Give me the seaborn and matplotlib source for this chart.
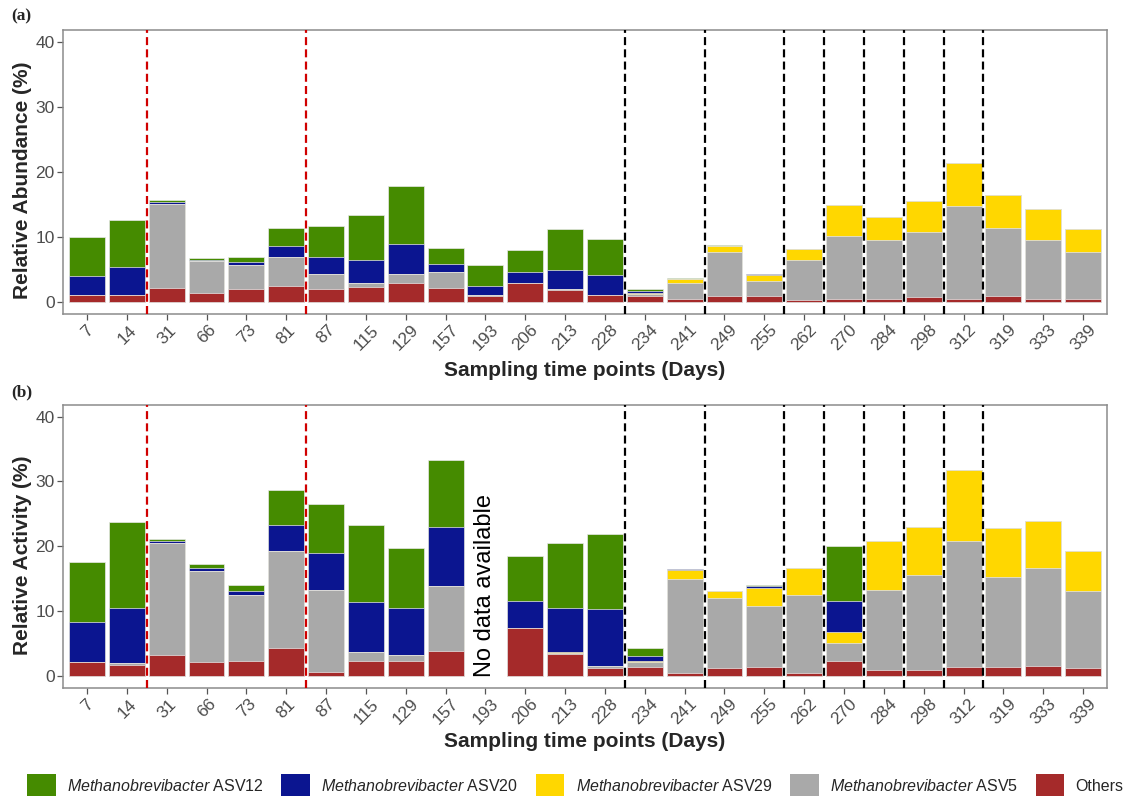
import numpy as np
import pandas as pd
import matplotlib
matplotlib.use("Agg")
import matplotlib.pyplot as plt
import seaborn as sns
from matplotlib.patches import Patch

# Sampling days (x categories)
days = [7, 14, 31, 66, 73, 81, 87, 115, 129, 157, 193, 206, 213, 228,
        234, 241, 249, 255, 262, 270, 284, 298, 312, 319, 333, 339]

# (a) Relative abundance (%) per taxon, segment heights
abund_others = [1.1, 1.1, 2.1, 1.4, 1.9, 2.4, 1.9, 2.25, 2.8, 2.15, 0.9, 2.8, 1.8, 0.95,
                0.9, 0.45, 0.85, 0.85, 0.25, 0.45, 0.45, 0.65, 0.45, 0.85, 0.45, 0.45]
abund_asv5 = [0.0, 0.0, 13.0, 4.8, 3.7, 4.5, 2.3, 0.65, 1.4, 2.4, 0.1, 0.0, 0.1, 0.1,
              0.3, 2.5, 6.8, 2.3, 6.15, 9.65, 9.0, 10.0, 14.3, 10.5, 9.0, 7.2]
abund_asv29 = [0.0, 0.0, 0.0, 0.0, 0.0, 0.0, 0.0, 0.0, 0.0, 0.0, 0.0, 0.0, 0.0, 0.0,
               0.2, 0.55, 0.9, 0.9, 1.75, 4.7, 3.65, 4.85, 6.55, 5.05, 4.85, 3.55]
abund_asv20 = [2.9, 4.2, 0.2, 0.2, 0.5, 1.6, 2.7, 3.45, 4.6, 1.3, 1.4, 1.75, 3.05, 3.1,
               0.3, 0.05, 0.0, 0.15, 0.0, 0.0, 0.0, 0.0, 0.0, 0.0, 0.0, 0.0]
abund_asv12 = [6.0, 7.3, 0.3, 0.3, 0.7, 2.8, 4.8, 7.0, 9.0, 2.45, 3.25, 3.45, 6.2, 5.5,
               0.2, 0.05, 0.1, 0.1, 0.0, 0.0, 0.0, 0.0, 0.0, 0.0, 0.0, 0.0]

# (b) Relative activity (%) per taxon, segment heights (day 193 missing)
nan = np.nan
act_others = [2.05, 1.7, 3.15, 2.05, 2.2, 4.35, 0.6, 2.2, 2.2, 3.85, nan, 7.35, 3.35, 1.2,
              1.4, 0.45, 1.2, 1.4, 0.45, 2.25, 0.8, 0.95, 1.4, 1.4, 1.55, 1.2]
act_asv5 = [0.0, 0.3, 17.3, 14.15, 10.2, 14.85, 12.7, 1.45, 0.95, 10.0, nan, 0.0, 0.1, 0.35,
            0.65, 14.55, 10.75, 9.4, 12.0, 2.85, 12.5, 14.55, 19.4, 13.9, 15.15, 11.9]
act_asv29 = [0.0, 0.0, 0.0, 0.0, 0.0, 0.0, 0.0, 0.0, 0.0, 0.0, nan, 0.0, 0.2, 0.0,
             0.25, 1.35, 1.05, 2.75, 4.15, 1.6, 7.55, 7.5, 10.9, 7.5, 7.2, 6.1]
act_asv20 = [6.2, 8.45, 0.3, 0.4, 0.7, 4.1, 5.7, 7.7, 7.3, 9.1, nan, 4.2, 6.8, 8.75,
             0.8, 0.1, 0.05, 0.3, 0.0, 4.85, 0.0, 0.0, 0.0, 0.0, 0.0, 0.0]
act_asv12 = [9.3, 13.25, 0.4, 0.6, 0.9, 5.4, 7.5, 11.85, 9.3, 10.4, nan, 6.95, 10.0, 11.65,
             1.1, 0.1, 0.1, 0.15, 0.0, 8.4, 0.0, 0.0, 0.0, 0.0, 0.0, 0.0]

# Taxa, bottom-to-top stacking order, with fill colours
taxa = ["Others", "ASV5", "ASV29", "ASV20", "ASV12"]
colors = {"ASV12": "#458B00", "ASV20": "#0B1590", "ASV29": "#FFD700",
          "ASV5": "#A9A9A9", "Others": "#A52A2A"}
legend_order = ["ASV12", "ASV20", "ASV29", "ASV5", "Others"]
legend_labels = {"ASV12": r"$\mathit{Methanobrevibacter}$ ASV12",
                 "ASV20": r"$\mathit{Methanobrevibacter}$ ASV20",
                 "ASV29": r"$\mathit{Methanobrevibacter}$ ASV29",
                 "ASV5": r"$\mathit{Methanobrevibacter}$ ASV5",
                 "Others": "Others"}

# Phase boundaries (between category positions)
red_breaks = [1.5, 5.5]
black_breaks = [13.5, 15.5, 17.5, 18.5, 19.5, 20.5, 21.5, 22.5]

sns.set_theme(style="white")
plt.rcParams["font.family"] = ["Liberation Sans", "DejaVu Sans"]
plt.rcParams["mathtext.fontset"] = "custom"
plt.rcParams["mathtext.it"] = "Liberation Sans:italic"
plt.rcParams["mathtext.rm"] = "Liberation Sans"

labels = [str(d) for d in days]


def stacked_frame(series):
    df = pd.DataFrame({"day": labels})
    for name, vals in zip(taxa, series):
        df[name] = vals
    cum = df[taxa].cumsum(axis=1)
    for name in taxa:
        df[name + "_top"] = cum[name]
    return df


def draw_panel(ax, series, ylabel, xlab_y):
    df = stacked_frame(series)
    # draw cumulative tops from the highest layer down so lower layers overlay
    for name in reversed(taxa):
        sns.barplot(data=df, x="day", y=name + "_top", order=labels, color=colors[name],
                    saturation=1, width=0.9, errorbar=None, edgecolor="#E8E8E8",
                    linewidth=0.5, ax=ax)
    for x in red_breaks:
        ax.axvline(x, color="#D00000", lw=1.6, ls=(0, (3.6, 1.9)), zorder=5)
    for x in black_breaks:
        ax.axvline(x, color="black", lw=1.6, ls=(0, (3.6, 1.9)), zorder=5)
    ax.set_xlim(-0.6, len(days) - 0.4)
    ax.set_ylim(-1.9, 41.8)
    ax.set_yticks([0, 10, 20, 30, 40])
    ax.tick_params(axis="both", which="major", length=4, width=0.9, color="#555555",
                   labelcolor="#4D4D4D", labelsize=12.5, pad=2, bottom=True, left=True)
    for lab in ax.get_xticklabels():
        lab.set_rotation(45)
        lab.set_ha("center")
        lab.set_va("top")
    for sp in ax.spines.values():
        sp.set_color("#8C8C8C")
        sp.set_linewidth(1.1)
    ax.set_xlabel("Sampling time points (Days)", fontsize=15, fontweight="bold", va="center")
    ax.set_ylabel(ylabel, fontsize=15, fontweight="bold", va="center")
    ax.xaxis.set_label_coords(0.5, xlab_y)
    ax.yaxis.set_label_coords(-0.039, 0.47)
    ax.grid(False)


fig = plt.figure(figsize=(11.28, 7.96), dpi=100)
ax_a = fig.add_axes([0.0559, 0.6055, 0.9255, 0.3568])
ax_b = fig.add_axes([0.0559, 0.1357, 0.9255, 0.3555])

draw_panel(ax_a, [abund_others, abund_asv5, abund_asv29, abund_asv20, abund_asv12],
           "Relative Abundance (%)", -0.2)
draw_panel(ax_b, [act_others, act_asv5, act_asv29, act_asv20, act_asv12],
           "Relative Activity (%)", -0.19)

ax_b.text(labels.index("193"), 14.0, "No data available", rotation=90,
          ha="center", va="center", fontsize=17, color="black")

fig.text(0.010, 0.979, "(a)", fontsize=12.5, fontweight="bold",
         family="Liberation Serif", va="center", ha="left")
fig.text(0.010, 0.5075, "(b)", fontsize=12.5, fontweight="bold",
         family="Liberation Serif", va="center", ha="left")

handles = [Patch(facecolor=colors[t], edgecolor="none") for t in legend_order]
fig.legend(handles, [legend_labels[t] for t in legend_order], loc="center",
           bbox_to_anchor=(0.51, 0.013), ncol=5, frameon=False, fontsize=11.5,
           handlelength=1.8, handleheight=1.8, handletextpad=0.7, columnspacing=1.1,
           borderpad=0)

fig.savefig("out.png", dpi=100)
